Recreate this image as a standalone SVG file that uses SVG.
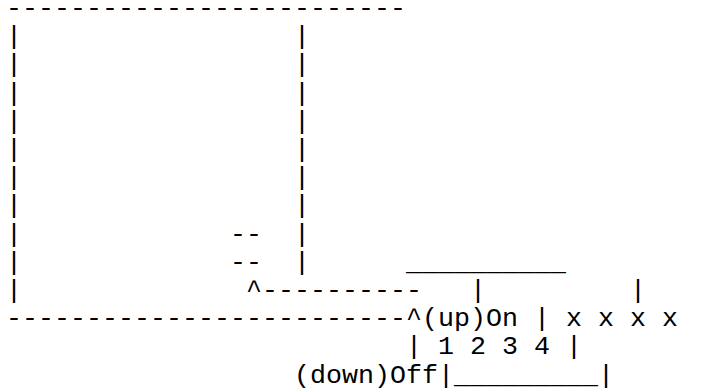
<svg xmlns="http://www.w3.org/2000/svg" width="701" height="388" viewBox="0 0 701 388">
<style>
text{font-family:"Courier New","Liberation Mono",monospace;font-size:26.67px;fill:#000;white-space:pre}
</style>
<rect width="701" height="388" fill="#fff"/>
<g id="frame">
<text x="6" y="16">-------------------------</text>
<text x="6" y="44.2">|</text><text x="294" y="44.2">|</text>
<text x="6" y="72.4">|</text><text x="294" y="72.4">|</text>
<text x="6" y="100.6">|</text><text x="294" y="100.6">|</text>
<text x="6" y="128.8">|</text><text x="294" y="128.8">|</text>
<text x="6" y="157">|</text><text x="294" y="157">|</text>
<text x="6" y="185.2">|</text><text x="294" y="185.2">|</text>
<text x="6" y="213.4">|</text><text x="294" y="213.4">|</text>
<text x="6" y="241.6">|</text><text x="294" y="241.6">|</text>
<text x="6" y="269.8">|</text><text x="294" y="269.8">|</text>
<text x="6" y="298">|</text>
</g>
<g id="marks">
<text x="230" y="241.6">--</text>
<text x="230" y="269.8">--</text>
</g>
<g id="connectors">
<text x="246" y="298">^----------</text>
<text x="6" y="326.2">-------------------------^</text>
</g>
<g id="switch">
<text x="406" y="269.8">__________</text>
<text x="470" y="298">|</text>
<text x="630" y="298">|</text>
<text x="422" y="326.2">(up)On | x x x x</text>
<text x="406" y="354.4">| 1 2 3 4 |</text>
<text x="294" y="382.6">(down)Off|_________|</text>
</g>
</svg>
